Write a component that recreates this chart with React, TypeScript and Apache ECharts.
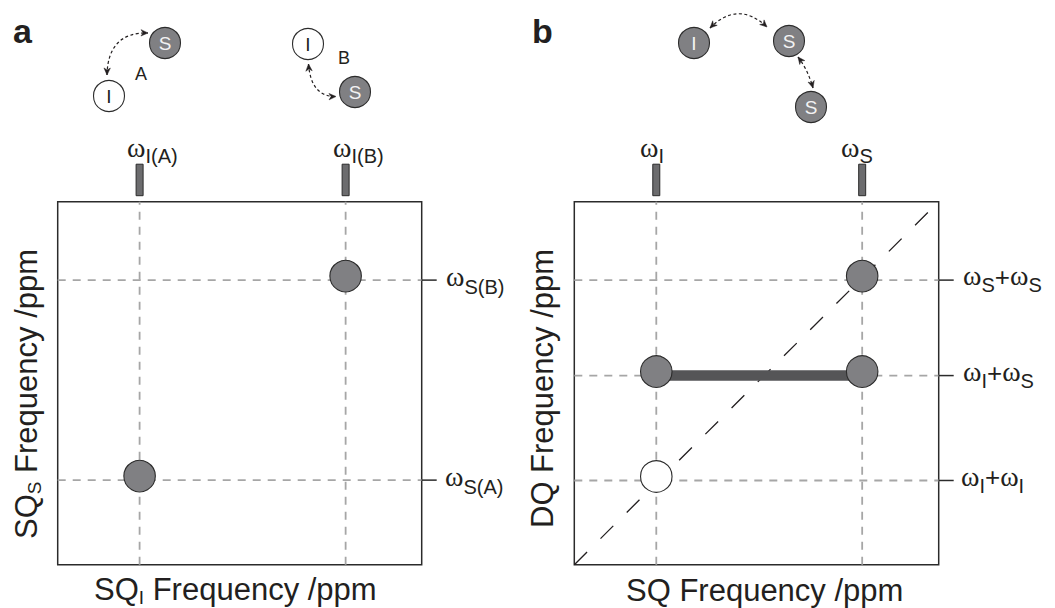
import React, { useEffect, useRef } from 'react';
import * as echarts from 'echarts';

// ---------------- data (arbitrary 0–100 frequency scale) ----------------
const axisMin = 0;
const axisMax = 100;

// Panel a: SQ_I (x) vs SQ_S (y)
const aSQIShifts = [22.5, 79.1]; // ω_I(A), ω_I(B)
const aSQSShifts = [23.3, 78.4]; // ω_S(A), ω_S(B)
const aXTickLabels = ['ω_{I(A)}', 'ω_{I(B)}'];
const aYTickLabels = ['ω_{S(A)}', 'ω_{S(B)}'];
const aPeaks: [number, number][] = [
  [22.5, 23.3],
  [79.1, 78.4],
];

// Panel b: SQ (x) vs DQ (y)
const bSQShifts = [22.5, 79.0]; // ω_I, ω_S
const bDQShifts = [23.2, 52.1, 78.4]; // ω_I+ω_I, ω_I+ω_S, ω_S+ω_S
const bXTickLabels = ['ω_{I}', 'ω_{S}'];
const bYTickLabels = ['ω_{I}+ω_{I}', 'ω_{I}+ω_{S}', 'ω_{S}+ω_{S}'];
const bPeaksFilled: [number, number][] = [
  [22.5, 52.1],
  [79.0, 52.1],
  [79.0, 78.4],
];
const bPeaksOpen: [number, number][] = [[22.5, 23.2]];
const bCorrelation: [number, number][] = [
  [22.5, 52.1],
  [79.0, 52.1],
];
const bDiagonal: [number, number][] = [
  [0, 0],
  [100, 100],
];

// ---------------- styling / layout ----------------
const SANS = '"Liberation Sans", Arial, Helvetica, sans-serif';
const SERIF = '"Liberation Serif", "Times New Roman", serif';
const INK = '#231f20';
const GRID_DASH = '#a6a6a6';
const PEAK_FILL = '#808083';
const BAR_FILL = '#6c6c6e';

const aTopLabelX = [127, 333];
const bTopLabelX = [640, 841];
const aRightLabelX = [445, 446];
const bRightLabelX = [961, 963, 963];

let measureCtx: CanvasRenderingContext2D | null = null;
function textWidth(t: string, size: number, family: string, weight = 'normal') {
  if (!measureCtx) measureCtx = document.createElement('canvas').getContext('2d');
  measureCtx!.font = `${weight} ${size}px ${family}`;
  return measureCtx!.measureText(t).width;
}

type Run = { t: string; size: number; family: string; dy: number; weight?: string; fill?: string };

function runGroup(runs: Run[], x: number, y: number, rotation = 0) {
  let cx = 0;
  const children = runs.map((r) => {
    const k = r.family === SERIF ? 0.3375 : 0.3465;
    const el = {
      type: 'text',
      x: cx,
      y: r.dy - k * r.size,
      style: {
        text: r.t,
        fontSize: r.size,
        fontFamily: r.family,
        fontWeight: r.weight || 'normal',
        fill: r.fill || INK,
        align: 'left',
        verticalAlign: 'middle',
      },
    };
    cx += textWidth(r.t, r.size, r.family, r.weight || 'normal');
    return el;
  });
  return { type: 'group', x, y, rotation, children, silent: true };
}

function parseLabel(s: string, subDy: number): Run[] {
  const runs: Run[] = [];
  let i = 0;
  while (i < s.length) {
    if (s[i] === '_' && s[i + 1] === '{') {
      const j = s.indexOf('}', i);
      runs.push({ t: s.slice(i + 2, j), size: 20, family: SANS, dy: subDy });
      i = j + 1;
    } else if (s[i] === 'ω') {
      runs.push({ t: 'ω', size: 28, family: SERIF, dy: 0 });
      i++;
    } else {
      runs.push({ t: s[i], size: 26, family: SANS, dy: 1 });
      i++;
    }
  }
  return runs;
}

// molecules sketch
const molecules = [
  { cx: 165, cy: 43, label: 'S', filled: true },
  { cx: 109, cy: 96, label: 'I', filled: false },
  { cx: 308, cy: 44, label: 'I', filled: false },
  { cx: 355, cy: 92, label: 'S', filled: true },
  { cx: 694, cy: 43, label: 'I', filled: true },
  { cx: 789, cy: 41, label: 'S', filled: true },
  { cx: 811, cy: 107, label: 'S', filled: true },
];
const arrows = [
  { p0: [107, 75], c: [108, 32], p2: [148, 33] },
  { p0: [308.5, 64], c: [311, 97], p2: [336, 96.5] },
  { p0: [710, 28], c: [738, 0], p2: [767, 27] },
  { p0: [798, 57], c: [808, 70], p2: [813, 88] },
];

function arrowHead(tip: number[], from: number[]) {
  const dx = tip[0] - from[0];
  const dy = tip[1] - from[1];
  const len = Math.hypot(dx, dy) || 1;
  const ux = dx / len;
  const uy = dy / len;
  const L = 7;
  const W = 3.2;
  const bx = tip[0] - ux * L;
  const by = tip[1] - uy * L;
  return {
    type: 'polygon',
    shape: {
      points: [
        [tip[0], tip[1]],
        [bx - uy * W, by + ux * W],
        [tip[0] - ux * L * 0.7, tip[1] - uy * L * 0.7],
        [bx + uy * W, by - ux * W],
      ],
    },
    style: { fill: INK, stroke: INK, lineWidth: 0.5 },
  };
}

function moleculeGraphics() {
  const out: any[] = [];
  arrows.forEach((a) => {
    out.push({
      type: 'bezierCurve',
      shape: { x1: a.p0[0], y1: a.p0[1], x2: a.p2[0], y2: a.p2[1], cpx1: a.c[0], cpy1: a.c[1] },
      style: { stroke: INK, lineWidth: 1.2, lineDash: [3, 2.5], fill: 'none' },
    });
    out.push(arrowHead(a.p0, a.c));
    out.push(arrowHead(a.p2, a.c));
  });
  molecules.forEach((m) => {
    out.push({
      type: 'circle',
      shape: { cx: m.cx, cy: m.cy, r: 15.5 },
      style: { fill: m.filled ? PEAK_FILL : '#ffffff', stroke: '#2b2b2b', lineWidth: 1.1 },
    });
    out.push({
      type: 'text',
      x: m.cx,
      y: m.cy,
      style: {
        text: m.label,
        fontSize: 19,
        fontFamily: SANS,
        fill: m.filled ? '#f2f2f2' : INK,
        align: 'center',
        verticalAlign: 'middle',
      },
    });
  });
  // letters A, B
  out.push({ type: 'text', x: 141, y: 74, style: { text: 'A', fontSize: 18, fontFamily: SANS, fill: INK, align: 'center', verticalAlign: 'middle' } });
  out.push({ type: 'text', x: 344, y: 58, style: { text: 'B', fontSize: 18, fontFamily: SANS, fill: INK, align: 'center', verticalAlign: 'middle' } });
  return out;
}

function gridLineSeries(gridIndex: number, xs: number[], ys: number[]) {
  const lineStyle = { color: GRID_DASH, width: 1.8, type: [8, 7] as any };
  const s: any[] = [];
  xs.forEach((x) =>
    s.push({
      type: 'line',
      xAxisIndex: gridIndex,
      yAxisIndex: gridIndex,
      data: [
        [x, axisMin],
        [x, axisMax],
      ],
      symbol: 'none',
      lineStyle,
      z: 1,
      silent: true,
    })
  );
  ys.forEach((y) =>
    s.push({
      type: 'line',
      xAxisIndex: gridIndex,
      yAxisIndex: gridIndex,
      data: [
        [axisMin, y],
        [axisMax, y],
      ],
      symbol: 'none',
      lineStyle,
      z: 1,
      silent: true,
    })
  );
  return s;
}

function topBarsSeries(gridIndex: number, xs: number[]) {
  return {
    type: 'custom',
    xAxisIndex: gridIndex,
    yAxisIndex: gridIndex,
    clip: false,
    silent: true,
    z: 3,
    data: xs.map((x) => [x, axisMax]),
    renderItem: (_p: any, api: any) => {
      const pt = api.coord([api.value(0), api.value(1)]);
      return {
        type: 'rect',
        shape: { x: pt[0] - 3.5, y: pt[1] - 37.5, width: 7, height: 31.5 },
        style: { fill: BAR_FILL, stroke: '#2b2b2b', lineWidth: 1 },
      };
    },
  };
}

function rightTicksSeries(gridIndex: number, ys: number[]) {
  return {
    type: 'custom',
    xAxisIndex: gridIndex,
    yAxisIndex: gridIndex,
    clip: false,
    silent: true,
    z: 3,
    data: ys.map((y) => [axisMax, y]),
    renderItem: (_p: any, api: any) => {
      const pt = api.coord([api.value(0), api.value(1)]);
      return {
        type: 'line',
        shape: { x1: pt[0], y1: pt[1], x2: pt[0] + 15, y2: pt[1] },
        style: { stroke: '#2b2b2b', lineWidth: 1.5 },
      };
    },
  };
}

function peakSeries(gridIndex: number, data: [number, number][], fill: string) {
  return {
    type: 'scatter',
    xAxisIndex: gridIndex,
    yAxisIndex: gridIndex,
    data,
    symbol: 'circle',
    symbolSize: 31.5,
    symbolOffset: [0, -4],
    itemStyle: { color: fill, borderColor: '#2b2b2b', borderWidth: 1.1, opacity: 1 },
    z: 6,
    silent: true,
  };
}

export default function App() {
  const ref = useRef<HTMLDivElement>(null);
  useEffect(() => {
    if (!ref.current) return;
    const chart = echarts.init(ref.current, undefined, { renderer: 'svg' });
    const gridBase = {
      top: 201.7,
      width: 364,
      height: 363,
      show: true,
      borderColor: '#2b2b2b',
      borderWidth: 1.5,
      backgroundColor: 'transparent',
      containLabel: false,
    };
    const axis = (gridIndex: number) => ({
      gridIndex,
      type: 'value',
      min: axisMin,
      max: axisMax,
      show: false,
    });
    const option: any = {
      animation: false,
      backgroundColor: '#ffffff',
      grid: [
        { ...gridBase, left: 57.7 },
        { ...gridBase, left: 574.3, width: 364.4 },
      ],
      xAxis: [axis(0), axis(1)],
      yAxis: [axis(0), axis(1)],
      series: [
        ...gridLineSeries(0, aSQIShifts, aSQSShifts),
        ...gridLineSeries(1, bSQShifts, bDQShifts),
        {
          type: 'line',
          xAxisIndex: 1,
          yAxisIndex: 1,
          data: bDiagonal,
          symbol: 'none',
          lineStyle: { color: INK, width: 1.3, type: [18, 19] },
          z: 2,
          silent: true,
        },
        {
          type: 'line',
          xAxisIndex: 1,
          yAxisIndex: 1,
          data: bCorrelation,
          symbol: 'none',
          lineStyle: { color: '#555557', width: 10.5, cap: 'butt' },
          z: 4,
          silent: true,
        },
        topBarsSeries(0, aSQIShifts),
        topBarsSeries(1, bSQShifts),
        rightTicksSeries(0, aSQSShifts),
        rightTicksSeries(1, bDQShifts),
        peakSeries(0, aPeaks, PEAK_FILL),
        peakSeries(1, bPeaksFilled, PEAK_FILL),
        peakSeries(1, bPeaksOpen, '#ffffff'),
      ],
    };
    chart.setOption(option);

    const graphics: any[] = [];
    // panel letters
    graphics.push(runGroup([{ t: 'a', size: 34, family: SANS, dy: 0, weight: 'bold' }], 13, 43));
    graphics.push(runGroup([{ t: 'b', size: 34, family: SANS, dy: 0, weight: 'bold' }], 532, 43));
    graphics.push(...moleculeGraphics());

    // top tick labels
    aXTickLabels.forEach((l, i) => graphics.push(runGroup(parseLabel(l, 6), aTopLabelX[i], 157)));
    bXTickLabels.forEach((l, i) => graphics.push(runGroup(parseLabel(l, 6), bTopLabelX[i], 157)));
    // right tick labels (baseline tied to gridline pixel)
    aYTickLabels.forEach((l, i) => {
      const py = chart.convertToPixel({ gridIndex: 0 }, [axisMax, aSQSShifts[i]])[1];
      graphics.push(runGroup(parseLabel(l, 8), aRightLabelX[i], py + 6));
    });
    bYTickLabels.forEach((l, i) => {
      const py = chart.convertToPixel({ gridIndex: 1 }, [axisMax, bDQShifts[i]])[1];
      graphics.push(runGroup(parseLabel(l, 7), bRightLabelX[i], py + 5));
    });

    // axis titles
    graphics.push(
      runGroup(
        [
          { t: 'SQ', size: 31, family: SANS, dy: 0 },
          { t: 'I', size: 19, family: SANS, dy: 4 },
          { t: ' Frequency /ppm', size: 31, family: SANS, dy: 0 },
        ],
        94,
        600
      )
    );
    graphics.push(runGroup([{ t: 'SQ Frequency /ppm', size: 31, family: SANS, dy: 0 }], 626, 601));
    graphics.push(
      runGroup(
        [
          { t: 'SQ', size: 31, family: SANS, dy: 0 },
          { t: 'S', size: 19, family: SANS, dy: 4 },
          { t: ' Frequency /ppm', size: 31, family: SANS, dy: 0 },
        ],
        37,
        539,
        Math.PI / 2
      )
    );
    graphics.push(runGroup([{ t: 'DQ Frequency /ppm', size: 31, family: SANS, dy: 0 }], 553, 528, Math.PI / 2));

    chart.setOption({ graphic: graphics });
    return () => chart.dispose();
  }, []);
  return <div ref={ref} style={{ position: 'fixed', left: 0, top: 0, width: 1055, height: 608 }} />;
}
